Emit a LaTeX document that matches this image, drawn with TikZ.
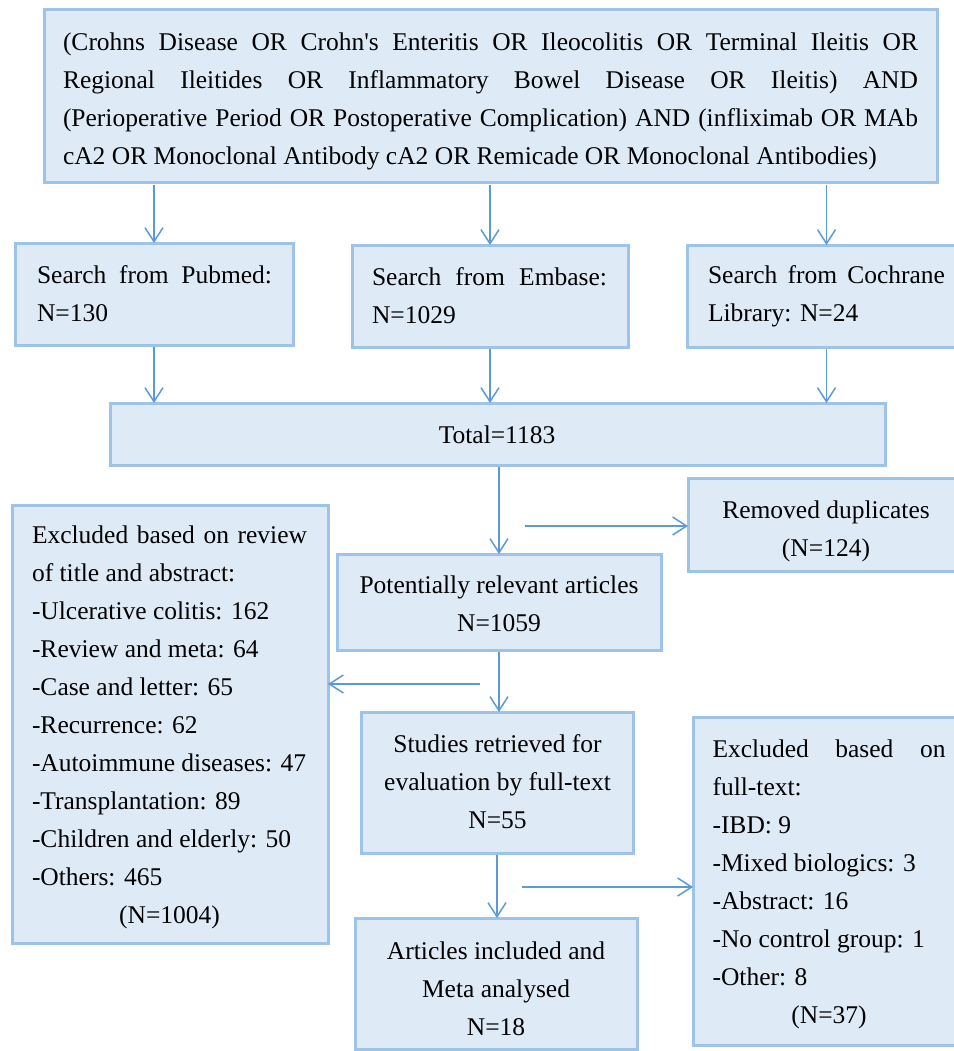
\documentclass[tikz,border=0pt]{standalone}
\usepackage{fontspec}
\setmainfont{Liberation Serif}
\usetikzlibrary{arrows.meta}
\definecolor{boxfill}{HTML}{DEEBF7}
\definecolor{boxline}{HTML}{9DC3E6}
\definecolor{arrowc}{HTML}{5B9BD5}
\setlength{\parindent}{0pt}
\setlength{\parskip}{0pt}
\newcommand\jline[1]{\makebox[\hsize][s]{#1}\par}
\begin{document}
\begin{tikzpicture}[x=1pt,y=-1pt,
  box/.style={draw=boxline, fill=boxfill, line width=3pt, inner sep=0pt, outer sep=0pt},
  txt/.style={inner sep=0pt, font=\fontsize{25.5}{38}\selectfont, align=justify},
  ctxt/.style={inner sep=0pt, font=\fontsize{25.5}{38}\selectfont, align=center},
  arr/.style={draw=arrowc, line width=1.5pt, -{Straight Barb[length=14pt,width=18pt]}}]
\useasboundingbox (0,0) rectangle (953,1051);
% boxes
\node[box, minimum width=893pt, minimum height=173pt] (top) at (490.5,96.5) {};
\node[box, minimum width=278pt, minimum height=102pt] (pub) at (154,294) {};
\node[box, minimum width=276pt, minimum height=102pt] (emb) at (490,296) {};
\node[box, minimum width=279pt, minimum height=102pt] (coc) at (826.5,296) {};
\node[box, minimum width=775pt, minimum height=62pt] (tot) at (497.5,434) {};
\node[box, minimum width=276pt, minimum height=93pt] (rem) at (826,524.5) {};
\node[box, minimum width=324pt, minimum height=96pt] (pot) at (499,602) {};
\node[box, minimum width=316pt, minimum height=438pt] (exl) at (170,724) {};
\node[box, minimum width=272pt, minimum height=141pt] (stu) at (497,782.5) {};
\node[box, minimum width=272pt, minimum height=328pt] (exf) at (829,881) {};
\node[box, minimum width=282pt, minimum height=131pt] (art) at (496,983.5) {};
% texts
\node[txt, text width=855pt] (ttop) at (490.5,101.5) {%
\jline{(Crohns Disease OR Crohn\textquotesingle s Enteritis OR Ileocolitis OR Terminal Ileitis OR}%
\jline{Regional Ileitides OR Inflammatory Bowel Disease OR Ileitis) AND}%
\jline{(Perioperative Period OR Postoperative Complication) AND (infliximab OR MAb}%
cA2 OR Monoclonal Antibody cA2 OR Remicade OR Monoclonal Antibodies)};
\node[txt, text width=235pt] (tpub) at (154.5,294) {\jline{Search from Pubmed:}N=130};
\node[txt, text width=235pt] (temb) at (489.5,296) {\jline{Search from Embase:}N=1029};
\node[txt, text width=237pt] (tcoc) at (826.5,296) {\jline{Search from Cochrane}Library: N=24};
\node[ctxt] (ttot) at (497,435) {Total=1183};
\node[ctxt] (trem) at (826,531) {Removed duplicates\\(N=124)};
\node[ctxt] (tpot) at (499,604) {Potentially relevant articles\\N=1059};
\node[txt, text width=275pt] (texl) at (169.5,727.5) {%
\jline{Excluded based on review}%
of title and abstract:\par
-Ulcerative colitis: 162\par
-Review and meta: 64\par
-Case and letter: 65\par
-Recurrence: 62\par
-Autoimmune diseases: 47\par
-Transplantation: 89\par
-Children and elderly: 50\par
-Others: 465\par
\centerline{(N=1004)}};
\node[ctxt] (tstu) at (497.5,782) {Studies retrieved for\\evaluation by full-text\\N=55};
\node[txt, text width=233pt] (texf) at (829,884) {%
\jline{Excluded based on}%
full-text:\par
-IBD: 9\par
-Mixed biologics: 3\par
-Abstract: 16\par
-No control group: 1\par
-Other: 8\par
\centerline{(N=37)}};
\node[ctxt] (tart) at (496,988.5) {Articles included and\\Meta analysed\\N=18};
% connectors
\draw[arr, shorten <=2pt] (pub.north |- top.south) -- (pub.north);
\draw[arr, shorten <=2pt] (emb.north |- top.south) -- (emb.north);
\draw[arr, shorten <=2pt] (coc.north |- top.south) -- (coc.north);
\draw[arr, shorten <=2pt] (pub.south) -- (pub.south |- tot.north);
\draw[arr, shorten <=2pt] (emb.south) -- (emb.south |- tot.north);
\draw[arr, shorten <=2pt] (coc.south) -- (coc.south |- tot.north);
\draw[arr, shorten <=2pt] (pot.north |- tot.south) -- (pot.north);
\draw[arr, shorten <=2pt] (pot.south) -- (pot.south |- stu.north);
\draw[arr, shorten <=2pt] (stu.south) -- (stu.south |- art.north);
\coordinate (j1) at (525,526);
\coordinate (j2) at (480,684);
\coordinate (j3) at (522,887);
\draw[arr] (j1) -- (j1 -| rem.west);
\draw[arr] (j2) -- (j2 -| exl.east);
\draw[arr] (j3) -- (j3 -| exf.west);
\end{tikzpicture}
\end{document}
